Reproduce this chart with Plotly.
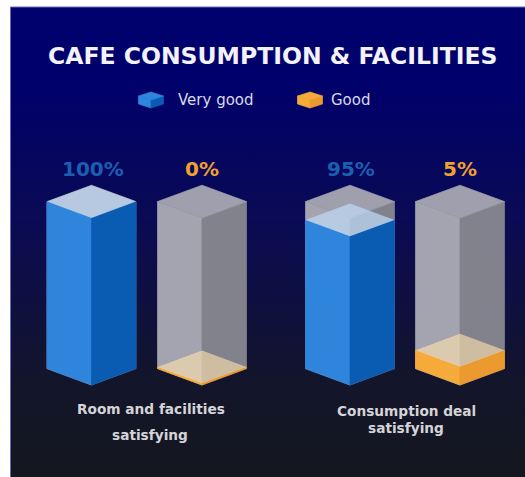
import plotly.graph_objects as go

# --- data ---
title = "CAFE CONSUMPTION & FACILITIES"
series_names = ["Very good", "Good"]
categories = [["Room and facilities", "satisfying"], ["Consumption deal", "satisfying"]]
very_good_pct = [100, 95]
good_pct = [0, 5]
# drawn fill level of each column
very_good_level = [100, 89]
good_level = [1, 11]

# --- geometry / style ---
W, H = 525, 477
PX_PER_UNIT = 1.67
BASE_PX = 385            # pixel row of the value 0 front corner
HALF_W = 44.5
DIAMOND = 16.4
centers = [[91.5, 202], [350, 460]]
BLUE = dict(left="#2f84dc", right="#0a5cb2", top="rgba(190,218,245,0.72)")
ORANGE = dict(left="#f6aa3a", right="#ea9a2e", top="rgba(255,226,175,0.62)")
TRACK = dict(left="#a4a3b0", right="#82828c", top="#a09fad")
u = lambda px: px / PX_PER_UNIT  # pixel length to value units
py = lambda row: (BASE_PX - row) / PX_PER_UNIT  # pixel row to value units

fig = go.Figure()

# background with vertical gradient
fig.add_trace(go.Scatter(
    x=[10.5, W, W, 10.5, 10.5], y=[py(7), py(7), py(H), py(H), py(7)],
    mode="lines", fill="toself", line=dict(width=0),
    fillgradient=dict(type="vertical", colorscale=[
        [0, "#14171f"], [0.2, "#13152a"], [0.55, "#0a0a55"], [0.85, "#00006c"], [1, "#00006e"]]),
    hoverinfo="skip", showlegend=False))
fig.add_trace(go.Scatter(x=[10.5, 10.5, W], y=[py(H), py(7), py(7)], mode="lines",
                         line=dict(color="#6a6ab0", width=1), hoverinfo="skip", showlegend=False))


def poly(xs, ys, color):
    solid = color.startswith("#")
    fig.add_trace(go.Scatter(x=xs + xs[:1], y=ys + ys[:1], mode="lines", fill="toself",
                             fillcolor=color,
                             line=dict(width=0.7 if solid else 0, color=color if solid else None),
                             hoverinfo="skip", showlegend=False))


def column(cx, level, st):
    d = u(DIAMOND)
    poly([cx - HALF_W, cx, cx, cx - HALF_W], [d, 0, level, level + d], st["left"])
    poly([cx, cx + HALF_W, cx + HALF_W, cx], [0, d, level + d, level], st["right"])
    poly([cx - HALF_W, cx, cx + HALF_W, cx], [level + d, level, level + d, level + 2 * d], st["top"])


for i in range(len(categories)):
    column(centers[i][0], 100, TRACK)
    column(centers[i][0], very_good_level[i], BLUE)
    column(centers[i][1], 100, TRACK)
    column(centers[i][1], good_level[i], ORANGE)

# legend icons
for lx, st in ((151, BLUE), (310, ORANGE)):
    h, s, ry = 12.5, 4, 100
    poly([lx - h, lx, lx, lx - h], [py(ry - s), py(ry), py(ry + 2 * s), py(ry + s)], st["left"])
    poly([lx, lx + h, lx + h, lx], [py(ry), py(ry - s), py(ry + s), py(ry + 2 * s)], st["right"])
    poly([lx - h, lx, lx + h, lx], [py(ry - s), py(ry - 2 * s), py(ry - s), py(ry)], st["left"])

FONT = "DejaVu Sans"
notes = []


def text(x, row, s, size, color, bold=False):
    notes.append(dict(x=x, y=py(row), text=f"<b>{s}</b>" if bold else s, showarrow=False,
                      xanchor="center", yanchor="middle",
                      font=dict(family=FONT, size=size, color=color)))


text(273, 56, title, 23.5, "#f2f2f8", True)
text(216, 100, series_names[0], 15, "#d8d8e8")
text(351, 100, series_names[1], 15, "#d8d8e8")
for i in range(len(categories)):
    text(centers[i][0] + 1, 169, f"{very_good_pct[i]}%", 20, "#1c5fb0", True)
    text(centers[i][1], 169, f"{good_pct[i]}%", 20, "#f0a030", True)
text(151, 409, categories[0][0], 13.7, "#d4d4d8", True)
text(150, 435, categories[0][1], 13.7, "#d4d4d8", True)
text(406, 411, categories[1][0], 13.7, "#d4d4d8", True)
text(406, 428, categories[1][1], 13.7, "#d4d4d8", True)

fig.update_layout(
    width=W, height=H, margin=dict(l=0, r=0, t=0, b=0),
    paper_bgcolor="white", plot_bgcolor="white", showlegend=False, annotations=notes,
    xaxis=dict(range=[0, W], visible=False, fixedrange=True),
    yaxis=dict(range=[py(H), py(0)], visible=False, fixedrange=True),
)
fig.write_html("out.html", config=dict(displayModeBar=False),
               post_script="document.body.style.margin='0';")
